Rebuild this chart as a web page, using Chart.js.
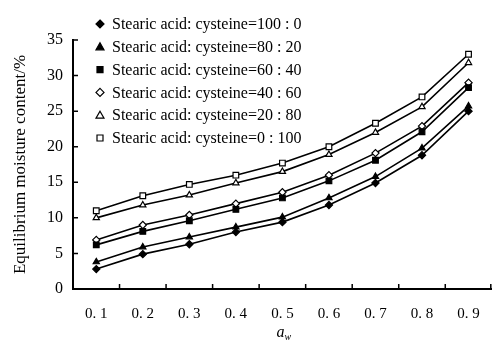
<!DOCTYPE html>
<html>
<head>
<meta charset="utf-8">
<script src="https://cdn.jsdelivr.net/npm/chart.js@4/dist/chart.umd.min.js"></script>
<style>
  body { margin: 0; background: #fff; }
</style>
</head>
<body>
<canvas id="myChart" width="497" height="343"></canvas>
<script>
// water activity categories
var categories = ['0.1', '0.2', '0.3', '0.4', '0.5', '0.6', '0.7', '0.8', '0.9'];
var ratios = ['100 : 0', '80 : 20', '60 : 40', '40 : 60', '20 : 80', '0 : 100'];

// equilibrium moisture content (%) for each stearic acid : cysteine ratio
var emc100_0 = [2.8, 4.9, 6.3, 8.0, 9.4, 11.8, 14.9, 18.8, 25.0];
var emc80_20 = [3.8, 5.9, 7.3, 8.7, 10.1, 12.8, 15.8, 19.8, 25.7];
var emc60_40 = [6.2, 8.1, 9.6, 11.2, 12.8, 15.2, 18.1, 22.1, 28.3];
var emc40_60 = [6.9, 9.0, 10.4, 12.0, 13.6, 16.0, 19.1, 22.9, 29.0];
var emc20_80 = [10.0, 11.8, 13.2, 14.9, 16.5, 18.9, 22.0, 25.6, 31.8];
var emc0_100 = [11.0, 13.1, 14.7, 16.0, 17.7, 20.0, 23.3, 27.0, 33.0];

var yTicks = [0, 5, 10, 15, 20, 25, 30, 35];

var serif = "'Liberation Serif', 'DejaVu Serif', serif";

function series(label, data, style, filled) {
  return {
    label: 'Stearic acid: cysteine=' + label,
    data: data,
    borderColor: '#000',
    borderWidth: 1.6,
    pointStyle: style,
    pointRadius: style === 'rect' ? 4 : 3.6,
    pointBorderWidth: 1.2,
    pointBorderColor: '#000',
    pointBackgroundColor: filled ? '#000' : '#fff',
    tension: 0
  };
}

function marker(ctx, style, x, y, fill) {
  ctx.save();
  ctx.beginPath();
  if (style === 'rectRot') {
    ctx.moveTo(x, y - 4); ctx.lineTo(x + 4, y); ctx.lineTo(x, y + 4); ctx.lineTo(x - 4, y);
  } else if (style === 'triangle') {
    ctx.moveTo(x, y - 4); ctx.lineTo(x + 4, y + 3); ctx.lineTo(x - 4, y + 3);
  } else {
    ctx.rect(x - 3, y - 3, 6, 6);
  }
  ctx.closePath();
  ctx.fillStyle = fill;
  ctx.fill();
  ctx.lineWidth = 1.2;
  ctx.strokeStyle = '#000';
  ctx.stroke();
  ctx.restore();
}

var decorations = {
  id: 'decorations',
  beforeDraw: function(chart) {
    var ctx = chart.ctx;
    ctx.save();
    ctx.fillStyle = '#fff';
    ctx.fillRect(0, 0, chart.width, chart.height);
    ctx.restore();
  },
  afterDraw: function(chart) {
    var ctx = chart.ctx;
    var area = chart.chartArea;
    var xs = chart.scales.x, ys = chart.scales.y;
    ctx.save();
    ctx.strokeStyle = '#000';
    ctx.lineWidth = 1.5;
    // inward tick marks
    ctx.beginPath();
    for (var i = 0; i < categories.length; i++) {
      var px = (xs.getPixelForValue(i) + xs.getPixelForValue(i + 1)) / 2;
      if (i === categories.length - 1) px = Math.min(px, area.right - 1);
      ctx.moveTo(px, area.bottom);
      ctx.lineTo(px, area.bottom - 5);
    }
    yTicks.forEach(function(v) {
      var py = ys.getPixelForValue(v);
      ctx.moveTo(area.left, py);
      ctx.lineTo(area.left + 5, py);
    });
    ctx.stroke();

    // legend
    ctx.font = '16px ' + serif;
    ctx.fillStyle = '#000';
    ctx.textBaseline = 'middle';
    chart.data.datasets.forEach(function(ds, i) {
      var y = 24 + i * 22.8;
      marker(ctx, ds.pointStyle, 100, y, ds.pointBackgroundColor);
      ctx.fillText(ds.label, 112, y + 1);
    });

    // x axis title: a with subscript w
    var cx = (area.left + area.right) / 2;
    ctx.font = 'italic 16px ' + serif;
    ctx.textBaseline = 'alphabetic';
    ctx.fillText('a', cx - 6, 337);
    ctx.font = 'italic 10px ' + serif;
    ctx.fillText('w', cx + 2, 340);
    ctx.restore();
  }
};

var config = {
  type: 'line',
  data: {
    labels: categories,
    datasets: [
      series(ratios[0], emc100_0, 'rectRot', true),
      series(ratios[1], emc80_20, 'triangle', true),
      series(ratios[2], emc60_40, 'rect', true),
      series(ratios[3], emc40_60, 'rectRot', false),
      series(ratios[4], emc20_80, 'triangle', false),
      series(ratios[5], emc0_100, 'rect', false)
    ]
  },
  options: {
    responsive: false,
    animation: false,
    layout: { padding: { top: 40, right: 0, left: 0, bottom: 0 } },
    plugins: {
      legend: { display: false },
      tooltip: { enabled: false }
    },
    scales: {
      x: {
        offset: true,
        grid: { display: false, drawTicks: false },
        border: { display: true, color: '#000', width: 2 },
        ticks: {
          color: '#000',
          padding: 16,
          font: { family: serif, size: 15 },
          callback: function(v, i) { return categories[i].replace('.', '. '); }
        },
        afterFit: function(scale) { scale.height = 54; }
      },
      y: {
        min: 0,
        max: 35,
        grid: { display: false, drawTicks: false },
        border: { display: true, color: '#000', width: 2 },
        ticks: {
          stepSize: 5,
          color: '#000',
          padding: 10,
          font: { family: serif, size: 16 }
        },
        title: {
          display: true,
          text: 'Equilibrium moisture content/%',
          color: '#000',
          font: { family: serif, size: 17 },
          padding: { top: 10, bottom: 0 }
        },
        afterFit: function(scale) { scale.width = 73; }
      }
    }
  },
  plugins: [decorations]
};

var ctx = document.getElementById('myChart').getContext('2d');
var myChart = new Chart(ctx, config);
</script>
</body>
</html>
